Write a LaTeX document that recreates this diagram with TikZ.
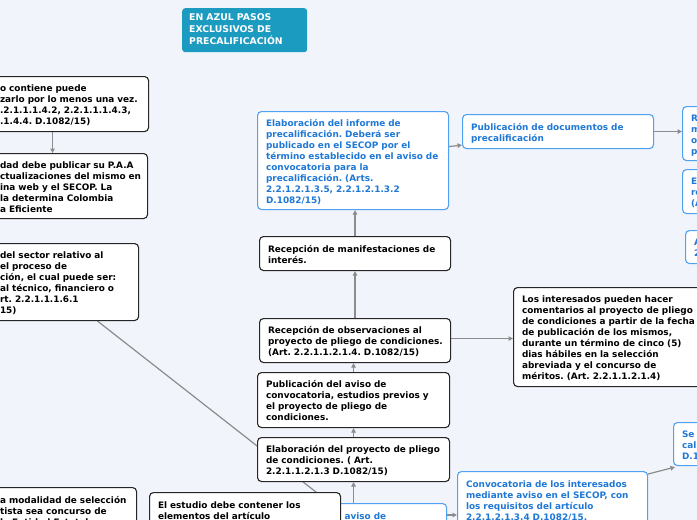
\documentclass[tikz,border=0pt]{standalone}
\usepackage{fontspec}
\setmainfont{DejaVu Sans}
\usetikzlibrary{arrows.meta}
\pgfdeclarelayer{back}
\pgfdeclarelayer{links}
\pgfsetlayers{back,links,main}
\definecolor{bgcol}{HTML}{F1F4FB}
\definecolor{boxline}{HTML}{262626}
\definecolor{blueline}{HTML}{4FA2F2}
\definecolor{bluetxt}{HTML}{1F78D6}
\definecolor{titlecol}{HTML}{1C9BC1}
\definecolor{linkcol}{HTML}{8C8C8C}
\newcommand{\titlelines}[1]{\begin{tabular}{@{}l@{}}#1\end{tabular}}
\newcommand{\boxlines}[1]{\raisebox{-1.8pt}[\height][\depth]{\begin{tabular}{@{}l@{}}#1\end{tabular}}}
\frenchspacing
\begin{document}
\begin{tikzpicture}[x=1pt,y=-1pt,
  box/.style={draw=boxline, line width=1.1pt, fill=white, rounded corners=4pt,
    anchor=north west, inner xsep=8.5pt, inner ysep=0pt, align=left,
    font=\fontsize{8.9}{11}\selectfont\bfseries, text=black},
  bluebox/.style={box, draw=blueline, text=bluetxt},
  cutbox/.style={inner ysep=6pt},
  titlebox/.style={fill=titlecol, rounded corners=3pt, anchor=north west,
    inner xsep=7pt, inner ysep=0pt, align=left, text=white,
    font=\fontsize{9.3}{12}\selectfont\bfseries},
  link/.style={draw=linkcol, line width=1.2pt, -{Triangle[length=4.5pt,width=4.5pt]}},
  plainlink/.style={draw=linkcol, line width=1.2pt}]
\useasboundingbox (0,0) rectangle (697,520);
\begin{pgfonlayer}{back}
  \fill[bgcol] (0,0) rectangle (697,520);
\end{pgfonlayer}

% title
\node[titlebox, text width=111pt, minimum height=44pt] (title) at (182,8)
  {\titlelines{EN AZUL PASOS\\EXCLUSIVOS DE\\PRECALIFICACIÓN}};

% left column (clipped)
\node[box, text width=140pt, minimum height=55pt] (A) at (-9,76)
  {\boxlines{o contiene puede\\zarlo por lo menos una vez.\\.2.1.1.1.4.2, 2.2.1.1.1.4.3,\\.1.4.4. D.1082/15)}};
\node[box, text width=139pt, minimum height=65pt] (B) at (-9,153)
  {\boxlines{dad debe publicar su P.A.A\\ctualizaciones del mismo en\\ina web y el SECOP. La\\la determina Colombia\\a Eficiente}};
\node[box, text width=130pt, minimum height=77pt] (C) at (-9,243)
  {\boxlines{del sector relativo al\\el proceso de\\ción, el cual puede ser:\\al técnico, financiero o\\rt. 2.2.1.1.1.6.1\\15)}};
\node[box, cutbox, text width=128pt] (D) at (-9,487)
  {\boxlines{a modalidad de selección\\tista sea concurso de\\la Entidad Estatal no}};

% central column
\node[bluebox, text width=174pt, minimum height=98pt] (informe) at (257,111)
  {\boxlines{Elaboración del informe de\\precalificación. Deberá ser\\publicado en el SECOP por el\\término establecido en el aviso de\\convocatoria para la\\precalificación. (Arts.\\2.2.1.2.1.3.5, 2.2.1.2.1.3.2\\D.1082/15)}};
\node[box, text width=174pt, minimum height=34pt] (recman) at (259,236)
  {\boxlines{Recepción de manifestaciones de\\interés.}};
\node[box, text width=174pt, minimum height=44pt] (recobs) at (259,318)
  {\boxlines{Recepción de observaciones al\\proyecto de pliego de condiciones.\\(Art. 2.2.1.1.2.1.4. D.1082/15)}};
\node[box, text width=175pt, minimum height=55pt] (pubaviso) at (257,372)
  {\boxlines{Publicación del aviso de\\convocatoria, estudios previos y\\el proyecto de pliego de\\condiciones.}};
\node[box, text width=175pt, minimum height=44pt] (elab) at (257,437)
  {\boxlines{Elaboración del proyecto de pliego\\de condiciones. ( Art.\\2.2.1.1.2.1.3 D.1082/15)}};
\node[bluebox, cutbox, inner xsep=14pt, text width=88pt] (F) at (330,503)
  {\boxlines{aviso de}};
\node[box, cutbox, text width=174pt] (E) at (149,492)
  {\boxlines{El estudio debe contener los\\elementos del artículo}};

% right side
\node[bluebox, text width=174pt, minimum height=34pt] (pubdocs) at (462,114)
  {\boxlines{Publicación de documentos de\\precalificación}};
\node[box, text width=174pt, minimum height=99pt] (inter) at (513,287)
  {\boxlines{Los interesados pueden hacer\\comentarios al proyecto de pliego\\de condiciones a partir de la fecha\\de publicación de los mismos,\\durante un término de cinco (5)\\dias hábiles en la selección\\abreviada y el concurso de\\méritos. (Art. 2.2.1.1.2.1.4)}};
\node[bluebox, cutbox, text width=173pt] (conv) at (457,471)
  {\boxlines{Convocatoria de los interesados\\mediante aviso en el SECOP, con\\los requisitos del artículo\\2.2.1.2.1.3.4 D.1082/15.}};
\node[bluebox, text width=174pt, minimum height=54pt] (R) at (682,106)
  {\boxlines{R\\m\\o\\p}};
\node[bluebox, text width=174pt, minimum height=44pt] (Eb) at (682,169)
  {\boxlines{E\\re\\(A}};
\node[bluebox, text width=174pt, minimum height=33pt] (Ab) at (685,230)
  {\boxlines{A\\2}};
\node[bluebox, text width=174pt, minimum height=43pt] (Se) at (673,422)
  {\boxlines{Se\\cali\\D.1}};

% connectors
\begin{pgfonlayer}{links}
  \draw[link] ([xshift=-17.5pt]A.south) -- ([xshift=-17.5pt]A.south |- B.north);
  \draw[plainlink] ([xshift=32.5pt]C.south) -- (F.north west);
  \draw[link] (elab.south |- F.north) -- (elab.south);
  \draw[link] (elab.north) -- (elab.north |- pubaviso.south);
  \draw[link] (pubaviso.north) -- (pubaviso.north |- recobs.south);
  \draw[link] (recobs.north) -- (recobs.north |- recman.south);
  \draw[link] (recman.north) -- (recman.north |- informe.south);
  \draw[link] ([yshift=14pt]informe.east) -- ([yshift=4pt]pubdocs.south west);
  \draw[link] (pubdocs.east) -- (pubdocs.east -| R.west);
  \draw[link] ([yshift=2pt]recobs.east) -- ([yshift=2pt]recobs.east -| inter.west);
  \draw[link] ([yshift=-12pt]F.north east) -- ([yshift=-12pt]F.north east -| conv.west);
  \draw[link] ([yshift=-3pt]conv.north east) -- ([xshift=2pt,yshift=-1pt]Se.south west);
\end{pgfonlayer}
\end{tikzpicture}
\end{document}
